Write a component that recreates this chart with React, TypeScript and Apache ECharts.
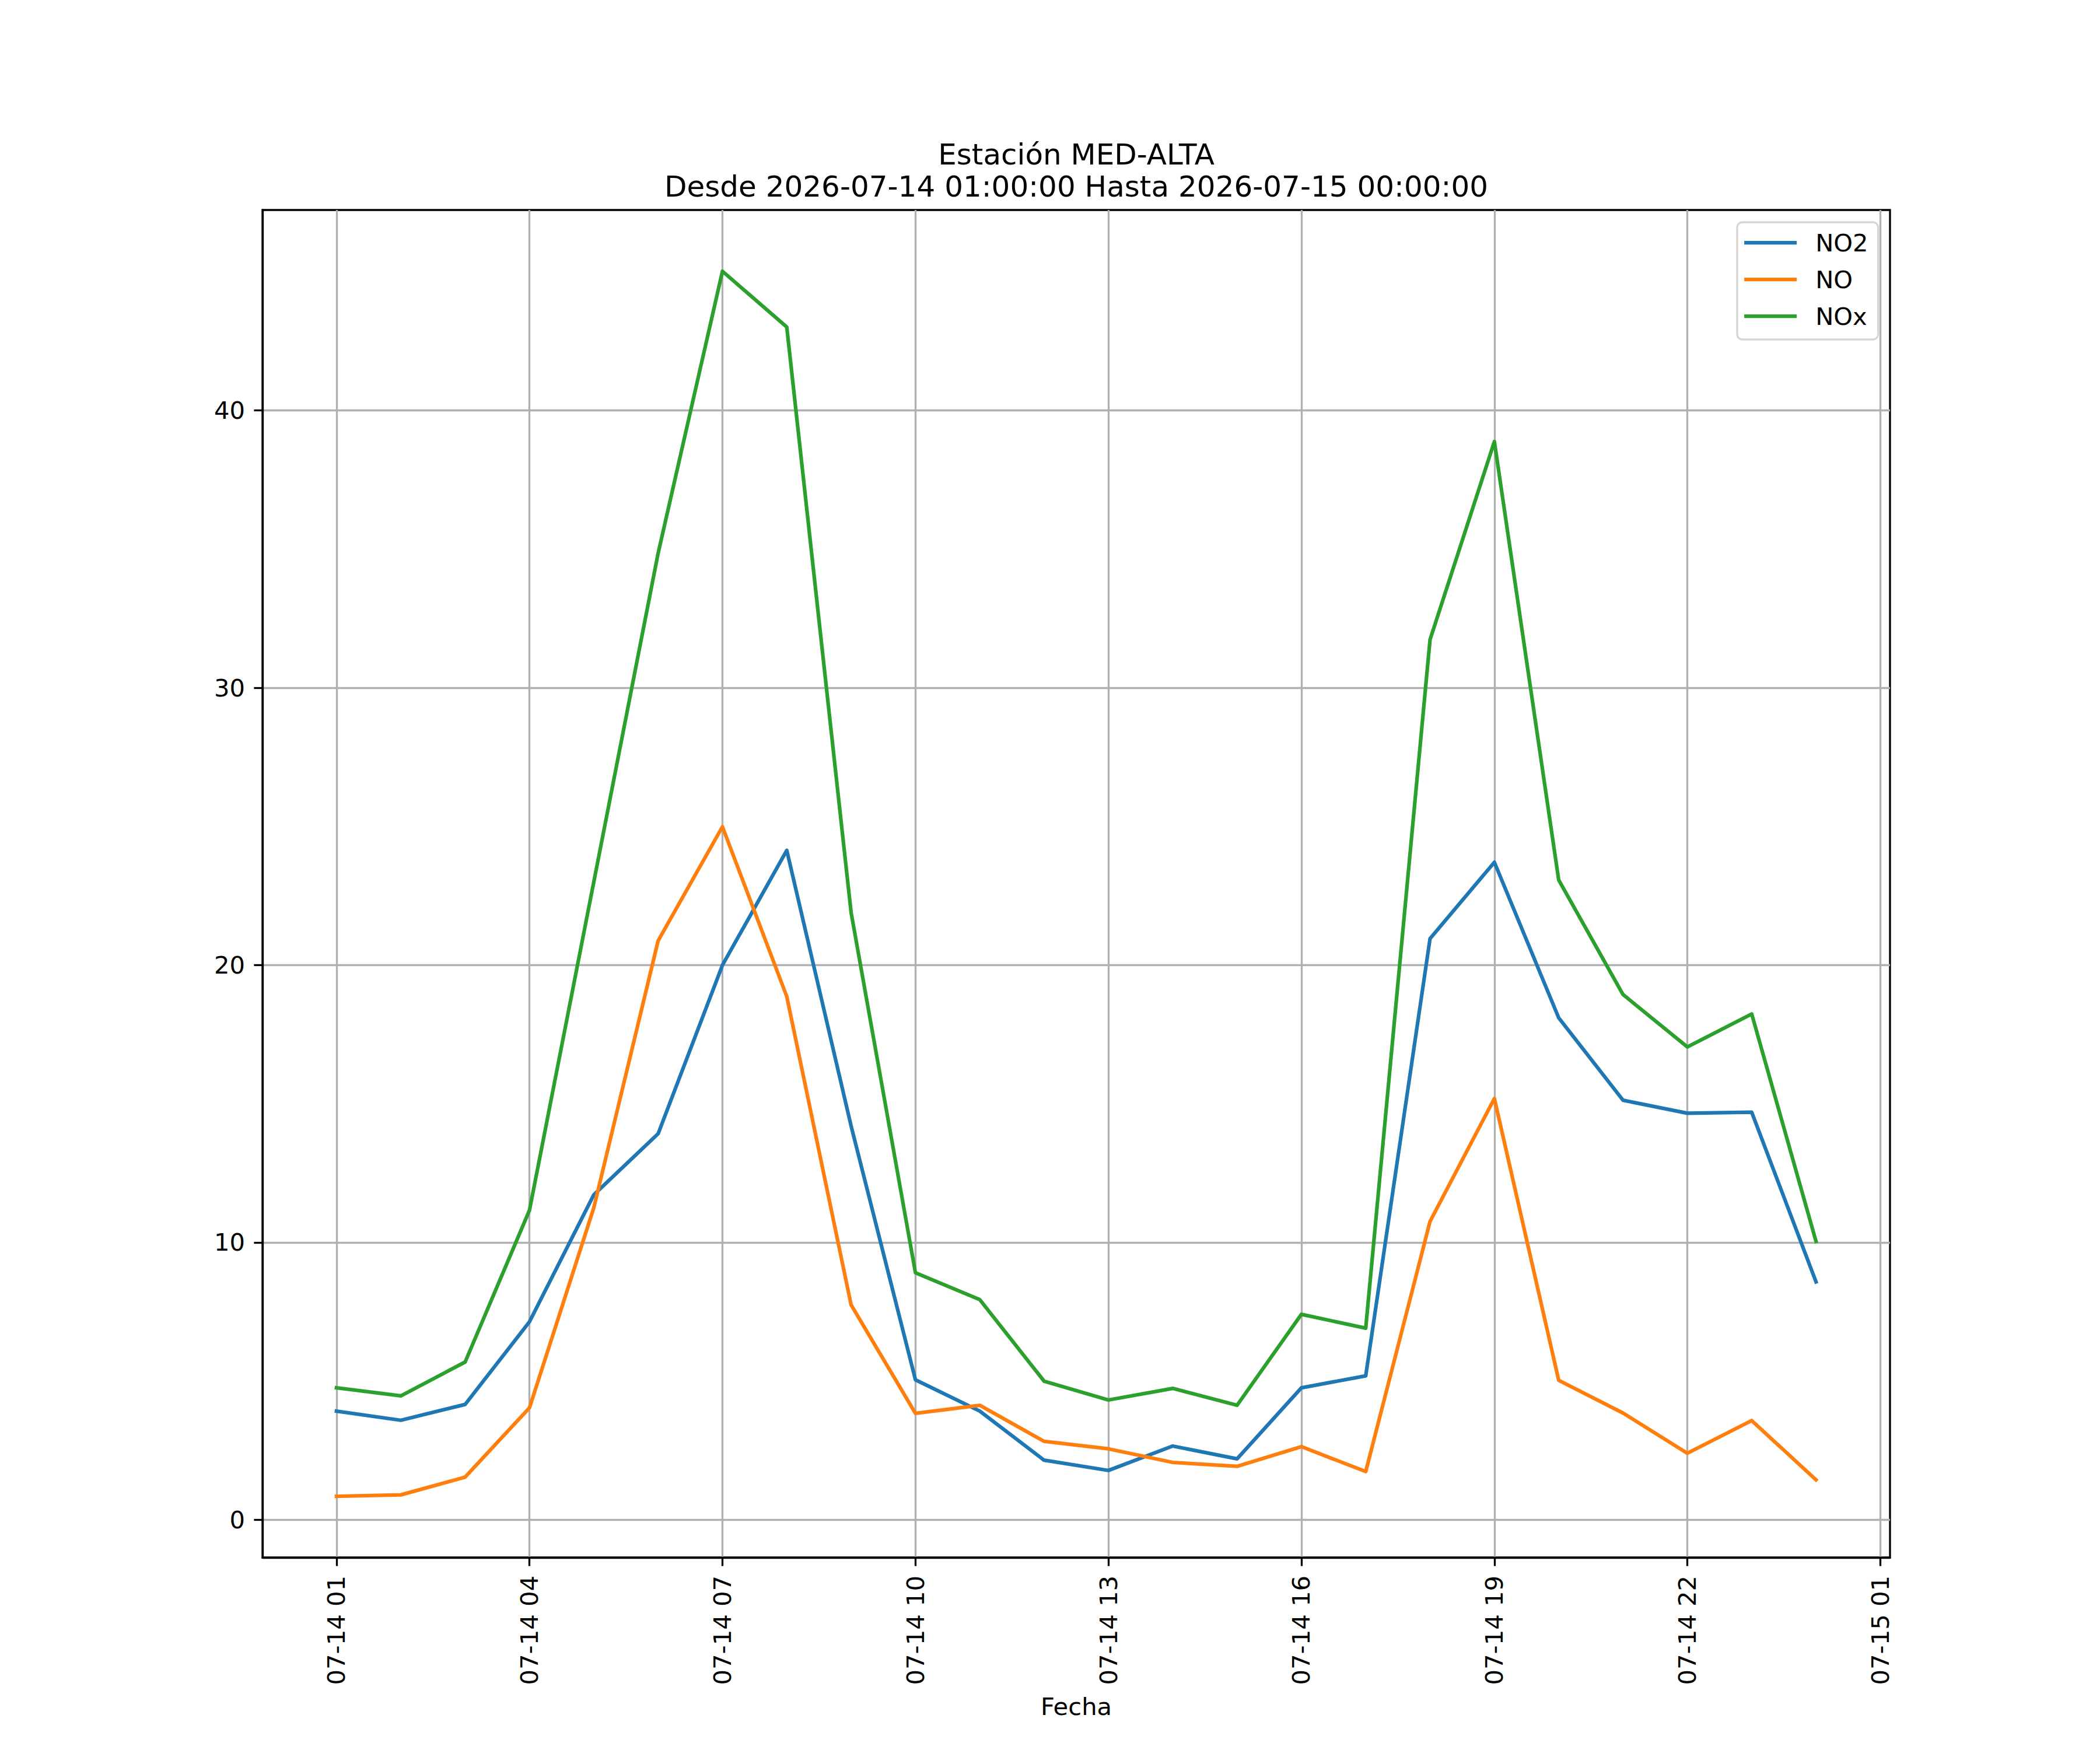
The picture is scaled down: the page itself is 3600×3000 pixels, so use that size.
import React, { useEffect, useRef } from "react";
import * as echarts from "echarts";

// Hour offsets from 2026-07-14 01:00 (0 = 07-14 01:00, 23 = 07-15 00:00)
const hourOffsets = [0, 1, 2, 3, 4, 5, 6, 7, 8, 9, 10, 11, 12, 13, 14, 15, 16, 17, 18, 19, 20, 21, 22, 23];

const seriesNames = ["NO2", "NO", "NOx"];
const seriesColors = ["#1f77b4", "#ff7f0e", "#2ca02c"];

const no2Values = [3.92, 3.59, 4.16, 7.14, 11.72, 13.92, 20.0, 24.14, 14.2, 5.05, 3.92, 2.15, 1.78, 2.66, 2.2, 4.76, 5.19, 20.96, 23.71, 18.1, 15.13, 14.66, 14.7, 8.58];
const noValues = [0.85, 0.9, 1.54, 4.04, 11.25, 20.88, 24.99, 18.87, 7.75, 3.84, 4.13, 2.83, 2.56, 2.07, 1.93, 2.64, 1.74, 10.76, 15.19, 5.03, 3.85, 2.4, 3.58, 1.44];
const noxValues = [4.76, 4.47, 5.69, 11.16, 23.0, 34.85, 45.02, 43.01, 21.9, 8.91, 7.94, 5.0, 4.32, 4.74, 4.13, 7.41, 6.91, 31.74, 38.88, 23.07, 18.94, 17.05, 18.24, 10.04];

const xTickValues = [0, 3, 6, 9, 12, 15, 18, 21, 24];
const yTickValues = [0, 10, 20, 30, 40];

const titleText = "Estación MED-ALTA\nDesde 2026-07-14 01:00:00 Hasta 2026-07-15 00:00:00";
const xAxisName = "Fecha";

const FONT = "DejaVu Sans";

function pad2(n: number) {
  return n < 10 ? "0" + n : String(n);
}

function formatHour(h: number) {
  const total = 1 + Math.round(h);
  const day = 14 + Math.floor(total / 24);
  const hour = total % 24;
  return "07-" + pad2(day) + " " + pad2(hour);
}

export default function App() {
  const ref = useRef<HTMLDivElement>(null);

  useEffect(() => {
    document.body.style.margin = "0";
    if (!ref.current) return;
    const chart = echarts.init(ref.current, undefined, { renderer: "svg" });

    const allVals = [...no2Values, ...noValues, ...noxValues];
    const dMin = Math.min(...allVals);
    const dMax = Math.max(...allVals);
    const yPad = 0.05 * (dMax - dMin);
    const xMinD = Math.min(...hourOffsets);
    const xMaxD = Math.max(...hourOffsets);
    const xPad = 0.05 * (xMaxD - xMinD);

    const valueSets = [no2Values, noValues, noxValues];

    const option: any = {
      animation: false,
      backgroundColor: "#ffffff",
      textStyle: { fontFamily: FONT },
      title: {
        text: titleText,
        left: 1845,
        top: 237,
        padding: 0,
        textAlign: "center",
        textStyle: {
          fontFamily: FONT,
          fontSize: 50,
          fontWeight: "normal",
          color: "#000000",
          lineHeight: 55,
        },
      },
      legend: {
        orient: "vertical",
        left: 2978,
        top: 381,
        padding: [14, 17, 19, 9],
        itemWidth: 90,
        itemHeight: 42,
        itemGap: 21,
        backgroundColor: "#ffffff",
        borderColor: "#d6d6d6",
        borderWidth: 3.3,
        borderRadius: 9,
        itemStyle: { opacity: 0 },
        lineStyle: { width: 6.25, cap: "butt" },
        textStyle: {
          fontFamily: FONT,
          fontSize: 41.7,
          color: "#000000",
          lineHeight: 42,
          padding: [0, 0, 0, 27],
        },
        data: seriesNames,
      },
      grid: {
        left: 450,
        right: 360,
        top: 360,
        bottom: 330,
        show: true,
        borderColor: "#000000",
        borderWidth: 3.3,
        backgroundColor: "transparent",
        containLabel: false,
        outerBoundsMode: "none",
      },
      xAxis: {
        type: "value",
        min: xMinD - xPad,
        max: xMaxD + xPad,
        name: xAxisName,
        nameLocation: "middle",
        nameGap: 234,
        nameMoveOverlap: false,
        nameTextStyle: { fontFamily: FONT, fontSize: 41.7, color: "#000000" },
        axisLine: { show: true, onZero: false, lineStyle: { color: "#000000", width: 3.3 } },
        axisTick: {
          show: true,
          inside: false,
          length: 14.6,
          lineStyle: { color: "#000000", width: 3.3 },
          customValues: xTickValues,
        },
        axisLabel: {
          show: true,
          rotate: 90,
          margin: 31,
          fontFamily: FONT,
          fontSize: 41.7,
          color: "#000000",
          customValues: xTickValues,
          formatter: (v: number) => formatHour(v),
        },
        splitLine: { show: true, lineStyle: { color: "#b0b0b0", width: 3.3 } },
      },
      yAxis: {
        type: "value",
        min: dMin - yPad,
        max: dMax + yPad,
        axisLine: { show: true, onZero: false, lineStyle: { color: "#000000", width: 3.3 } },
        axisTick: {
          show: true,
          inside: false,
          length: 14.6,
          lineStyle: { color: "#000000", width: 3.3 },
          customValues: yTickValues,
        },
        axisLabel: {
          show: true,
          margin: 30,
          fontFamily: FONT,
          fontSize: 41.7,
          color: "#000000",
          customValues: yTickValues,
          formatter: (v: number) => String(Math.round(v)),
        },
        splitLine: { show: true, lineStyle: { color: "#b0b0b0", width: 3.3 } },
      },
      series: seriesNames.map((name, si) => ({
        name,
        type: "line",
        symbol: "none",
        showSymbol: false,
        silent: true,
        color: seriesColors[si],
        lineStyle: { color: seriesColors[si], width: 6.25, cap: "square", join: "round" },
        emphasis: { disabled: true },
        data: hourOffsets.map((h, i) => [h, valueSets[si][i]]),
      })),
    };

    chart.setOption(option);
    return () => {
      chart.dispose();
    };
  }, []);

  return <div ref={ref} style={{ width: 3600, height: 3000 }} />;
}
